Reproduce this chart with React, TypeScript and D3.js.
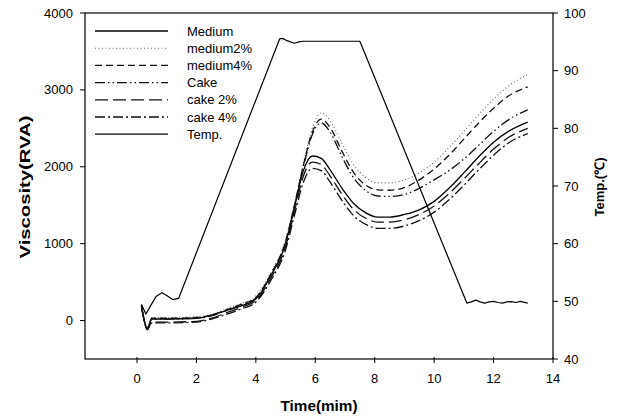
import React from 'react';
import * as d3 from 'd3';

// time axis shared by the six viscosity curves (min)
const time = [0.15, 0.35, 0.5, 1, 2, 2.5, 3, 3.5, 4, 4.5, 5, 5.3, 5.6, 5.9, 6.2, 6.5, 6.9, 7.3, 7.7, 8.1, 8.5, 9, 9.5, 10, 10.5, 11, 11.5, 12, 12.5, 13.15];

// viscosity (RVA)
const medium = [200, -100, 20, 20, 30, 70, 130, 190, 280, 580, 1000, 1480, 1950, 2140, 2110, 1960, 1720, 1520, 1400, 1345, 1345, 1380, 1440, 1550, 1720, 1920, 2130, 2320, 2460, 2580];
const medium2 = [200, -100, 40, 40, 50, 80, 150, 220, 320, 620, 1050, 1520, 2050, 2500, 2700, 2600, 2300, 2020, 1860, 1790, 1790, 1830, 1920, 2060, 2250, 2460, 2680, 2880, 3050, 3200];
const medium4 = [190, -110, 30, 30, 40, 70, 140, 210, 300, 600, 1030, 1500, 2020, 2450, 2620, 2510, 2200, 1920, 1760, 1700, 1695, 1730, 1830, 1970, 2150, 2360, 2570, 2760, 2920, 3040];
const cake = [180, -90, 20, 20, 30, 60, 130, 200, 290, 590, 1010, 1480, 2000, 2420, 2570, 2450, 2130, 1850, 1690, 1620, 1615, 1640, 1720, 1830, 1950, 2100, 2280, 2460, 2610, 2740];
const cake2 = [190, -110, -20, -20, -10, 30, 100, 170, 260, 550, 960, 1420, 1880, 2060, 2030, 1880, 1640, 1440, 1330, 1280, 1280, 1310, 1380, 1490, 1650, 1840, 2040, 2230, 2380, 2500];
const cake4 = [180, -120, -30, -30, -20, 20, 80, 150, 240, 520, 920, 1370, 1800, 1980, 1950, 1800, 1560, 1360, 1250, 1200, 1200, 1230, 1300, 1410, 1570, 1760, 1960, 2150, 2310, 2430];

// temperature profile (right axis)
const tempTime = [0.15, 0.3, 0.5, 0.65, 0.84, 1.0, 1.2, 1.4, 4.8, 4.9, 5.05, 5.3, 5.45, 5.6, 7.5, 11.1, 11.25, 11.4, 11.55, 11.7, 11.85, 12.0, 12.15, 12.3, 12.45, 12.6, 12.75, 12.9, 13.15];
const temp = [49.5, 47.8, 49.6, 50.9, 51.5, 51.0, 50.3, 50.5, 95.5, 95.6, 95.2, 94.75, 95.0, 95.1, 95.1, 49.7, 49.9, 50.2, 49.9, 49.7, 49.9, 50.0, 49.8, 49.7, 49.9, 49.95, 49.8, 50.0, 49.7];

const xTicks = [0, 2, 4, 6, 8, 10, 12, 14];
const yTicks = [0, 1000, 2000, 3000, 4000];
const tTicks = [40, 50, 60, 70, 80, 90, 100];
const legendLabels = ['Medium', 'medium2%', 'medium4%', 'Cake', 'cake 2%', 'cake 4%', 'Temp.'];

const font = "Arial, 'Liberation Sans', sans-serif";

export default function App() {
  const left = 85, right = 553, top = 13, bottom = 359;
  const x = d3.scaleLinear().domain([-1.75, 14]).range([left, right]);
  const y = d3.scaleLinear().domain([-500, 4000]).range([bottom, top]);
  const yT = d3.scaleLinear().domain([40, 100]).range([bottom, top]);

  const series = [
    { values: medium, dash: null, color: '#000', width: 1.3 },
    { values: medium2, dash: '1,2.5', color: '#666', width: 1.1 },
    { values: medium4, dash: '7,4', color: '#111', width: 1.3 },
    { values: cake, dash: '10,3,1.5,3,1.5,3', color: '#111', width: 1.3 },
    { values: cake2, dash: '13,5', color: '#111', width: 1.3 },
    { values: cake4, dash: '10,3,2,3', color: '#111', width: 1.3 },
  ];

  const line = d3.line<number>()
    .x((_, i) => x(time[i]))
    .y((d) => y(d))
    .curve(d3.curveMonotoneX);

  // temperature ramps are straight, so join its points linearly
  const tempLine = d3.line<number>()
    .x((_, i) => x(tempTime[i]))
    .y((d) => yT(d));

  const styles = [...series, { values: temp, dash: null, color: '#000', width: 1.3 }];

  return (
    <svg width={641} height={418} style={{ position: 'absolute', left: 0, top: 0, background: '#fff' }} fontFamily={font}>
      <rect x={0} y={0} width={641} height={418} fill="#fff" />

      {/* frame */}
      <rect x={left} y={top} width={right - left} height={bottom - top} fill="none" stroke="#000" strokeWidth={1.2} />

      {/* bottom axis */}
      {xTicks.map((t) => (
        <g key={'x' + t}>
          <line x1={x(t)} x2={x(t)} y1={bottom - 2} y2={bottom + 4} stroke="#000" />
          <text x={x(t)} y={383} textAnchor="middle" fontSize={13}>{t}</text>
        </g>
      ))}
      <text x={319} y={411} textAnchor="middle" fontSize={14} fontWeight="bold" textLength={77} lengthAdjust="spacingAndGlyphs">Time(mim)</text>

      {/* left axis */}
      {yTicks.map((v) => (
        <g key={'y' + v}>
          <line x1={left - 5} x2={left} y1={y(v)} y2={y(v)} stroke="#000" />
          <text x={73} y={y(v) + 4.5} textAnchor="end" fontSize={13}>{v}</text>
        </g>
      ))}
      <text transform={`translate(30,187) rotate(-90)`} textAnchor="middle" fontSize={14} fontWeight="bold" textLength={143} lengthAdjust="spacingAndGlyphs">Viscosity(RVA)</text>

      {/* right axis */}
      {tTicks.map((v) => (
        <g key={'t' + v}>
          <line x1={right} x2={right + 5} y1={yT(v)} y2={yT(v)} stroke="#000" />
          <text x={564} y={yT(v) + 4.5} textAnchor="start" fontSize={13}>{v}</text>
        </g>
      ))}
      <text transform={`translate(604,187) rotate(-90)`} textAnchor="middle" fontSize={13} fontWeight="bold">Temp.(℃)</text>

      {/* curves */}
      {series.map((s, i) => (
        <path key={'s' + i} d={line(s.values) || ''} fill="none" stroke={s.color} strokeWidth={s.width} strokeDasharray={s.dash || undefined} />
      ))}
      <path d={tempLine(temp) || ''} fill="none" stroke="#000" strokeWidth={1.2} strokeLinejoin="round" />

      {/* legend */}
      {legendLabels.map((lab, i) => {
        const ly = 31 + i * 17.2;
        const st = styles[i];
        return (
          <g key={'l' + i}>
            <line x1={95} x2={168} y1={ly} y2={ly} stroke={st.color} strokeWidth={st.width} strokeDasharray={st.dash || undefined} />
            <text x={187} y={ly + 4.5} fontSize={13}>{lab}</text>
          </g>
        );
      })}
    </svg>
  );
}
